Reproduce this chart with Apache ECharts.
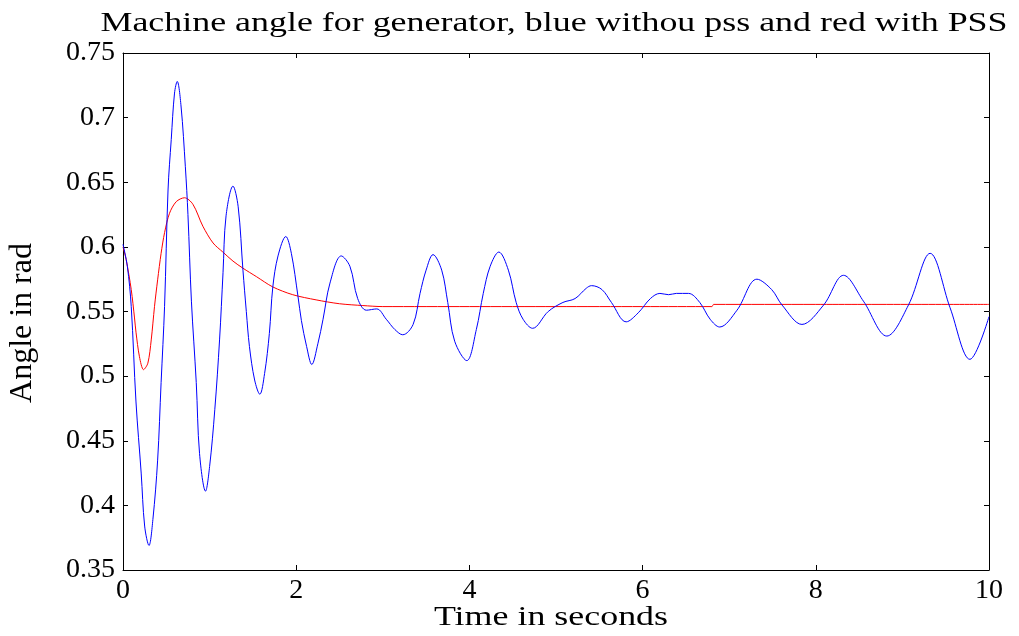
<!DOCTYPE html>
<html>
<head>
<meta charset="utf-8">
<title>Machine angle for generator</title>
<script src="https://cdn.jsdelivr.net/npm/echarts@6.0.0/dist/echarts.min.js"></script>
<style>
  html, body { margin: 0; padding: 0; background: #fff; }
  #chart { width: 1019px; height: 636px; }
</style>
</head>
<body>
<div id="chart"></div>
<script>
// Rotor angle response (rad) versus time (s)
const blueT = [0.00, 0.05, 0.095, 0.15, 0.21, 0.25, 0.30, 0.345, 0.40, 0.44, 0.48, 0.52, 0.557, 0.595, 0.626,
  0.67, 0.72, 0.75, 0.79, 0.846, 0.884, 0.953, 1.00, 1.06, 1.115, 1.155, 1.19, 1.27, 1.33, 1.385, 1.424,
  1.46, 1.52, 1.58, 1.635, 1.69, 1.73, 1.79, 1.88, 1.944, 2.02, 2.06, 2.12, 2.18, 2.25, 2.31, 2.39, 2.52,
  2.62, 2.71, 2.81, 2.93, 3.04, 3.14, 3.23, 3.35, 3.43, 3.50, 3.58, 3.68, 3.75, 3.83, 3.97, 4.08, 4.16,
  4.24, 4.34, 4.45, 4.54, 4.62, 4.73, 4.91, 5.08, 5.22, 5.35, 5.41, 5.53, 5.64, 5.81, 5.95, 6.09, 6.20,
  6.30, 6.39, 6.53, 6.66, 6.78, 6.89, 7.09, 7.32, 7.49, 7.61, 7.84, 8.09, 8.32, 8.55, 8.82, 9.07, 9.32,
  9.55, 9.78, 10.0];
const blueV = [0.602, 0.585, 0.554, 0.480, 0.425, 0.384, 0.369, 0.389, 0.435, 0.495, 0.554, 0.644, 0.683, 0.719, 0.728,
  0.709, 0.662, 0.625, 0.558, 0.495, 0.440, 0.411, 0.430, 0.474, 0.528, 0.580, 0.624, 0.647, 0.631, 0.582, 0.550,
  0.523, 0.497, 0.486, 0.502, 0.533, 0.569, 0.593, 0.608, 0.595, 0.562, 0.543, 0.523, 0.509, 0.525, 0.544, 0.572, 0.593,
  0.585, 0.560, 0.551, 0.552, 0.544, 0.536, 0.532, 0.540, 0.564, 0.582, 0.594, 0.582, 0.557, 0.527, 0.512, 0.536, 0.564,
  0.585, 0.596, 0.582, 0.557, 0.544, 0.537, 0.550, 0.557, 0.560, 0.568, 0.570, 0.567, 0.557, 0.542, 0.549, 0.560, 0.564,
  0.563, 0.564, 0.564, 0.557, 0.544, 0.538, 0.551, 0.575, 0.567, 0.555, 0.540, 0.555, 0.578, 0.558, 0.531, 0.555, 0.595,
  0.553, 0.513, 0.546];

const redT = [0.00, 0.037, 0.095, 0.133, 0.15, 0.19, 0.237, 0.287, 0.326, 0.364, 0.40, 0.44, 0.48, 0.537, 0.615,
  0.71, 0.807, 0.922, 1.04, 1.153, 1.27, 1.385, 1.54, 1.73, 1.96, 2.23, 2.50, 2.77, 3.0, 4.0, 5.0, 6.0, 6.8,
  6.82, 8.0, 10.0];
const redV = [0.600, 0.590, 0.567, 0.545, 0.534, 0.515, 0.505, 0.510, 0.528, 0.554, 0.5745, 0.595, 0.611, 0.626, 0.635,
  0.638, 0.633, 0.616, 0.603, 0.596, 0.589, 0.5835, 0.577, 0.569, 0.563, 0.559, 0.556, 0.5546, 0.5538, 0.5538, 0.5538, 0.5538, 0.5538,
  0.5555, 0.5555, 0.5555];

const xTicks = [0, 2, 4, 6, 8, 10];
const yTicks = [0.35, 0.4, 0.45, 0.5, 0.55, 0.6, 0.65, 0.7, 0.75];

const titleText = 'Machine angle for generator, blue withou pss and red with PSS';
const xName = 'Time in seconds';
const yName = 'Angle in rad';

const FONT = "'Liberation Serif', 'Times New Roman', serif";
const pairs = (t, v) => t.map((x, i) => [x, v[i]]);

const chart = echarts.init(document.getElementById('chart'), null, { renderer: 'canvas' });

const baseAxis = {
  axisLine: { show: true, onZero: false, lineStyle: { color: '#000', width: 1 } },
  axisTick: { show: true, inside: true, length: 5, lineStyle: { color: '#000', width: 1 } },
  splitLine: { show: false },
  minorTick: { show: false }
};

chart.setOption({
  animation: false,
  backgroundColor: '#fff',
  grid: { left: 123, right: 30, top: 53, bottom: 66, containLabel: false },
  xAxis: [
    Object.assign({}, baseAxis, {
      type: 'value', position: 'bottom',
      min: xTicks[0], max: xTicks[xTicks.length - 1], interval: xTicks[1] - xTicks[0],
      axisLabel: { show: true, margin: 7, color: '#000', fontFamily: FONT, fontSize: 28 }
    }),
    Object.assign({}, baseAxis, {
      type: 'value', position: 'top',
      min: xTicks[0], max: xTicks[xTicks.length - 1], interval: xTicks[1] - xTicks[0],
      axisLabel: { show: false }
    })
  ],
  yAxis: [
    Object.assign({}, baseAxis, {
      type: 'value', position: 'left',
      min: yTicks[0], max: yTicks[yTicks.length - 1], interval: 0.05,
      axisLabel: {
        show: true, margin: 8, color: '#000', fontFamily: FONT, fontSize: 28,
        formatter: v => String(Number(v.toFixed(2)))
      }
    }),
    Object.assign({}, baseAxis, {
      type: 'value', position: 'right',
      min: yTicks[0], max: yTicks[yTicks.length - 1], interval: 0.05,
      axisLabel: { show: false }
    })
  ],
  graphic: [
    {
      type: 'text', x: 554, y: 24, scaleX: 1.33, silent: true,
      style: { text: titleText, fill: '#000', fontFamily: FONT, fontSize: 27, align: 'center', verticalAlign: 'middle' }
    },
    {
      type: 'text', x: 551, y: 618, scaleX: 1.33, silent: true,
      style: { text: xName, fill: '#000', fontFamily: FONT, fontSize: 27, align: 'center', verticalAlign: 'middle' }
    },
    {
      type: 'text', x: 23, y: 323, rotation: Math.PI / 2, silent: true,
      style: { text: yName, fill: '#000', fontFamily: FONT, fontSize: 32, align: 'center', verticalAlign: 'middle' }
    }
  ],
  series: [
    {
      name: 'without PSS', type: 'line', xAxisIndex: 0, yAxisIndex: 0,
      data: pairs(blueT, blueV), showSymbol: false, symbol: 'none', smooth: 0.35,
      lineStyle: { color: '#0000ff', width: 1 }, z: 3
    },
    {
      name: 'with PSS', type: 'line', xAxisIndex: 0, yAxisIndex: 0,
      data: pairs(redT, redV), showSymbol: false, symbol: 'none', smooth: 0.3,
      lineStyle: { color: '#ff0000', width: 1 }, z: 2
    }
  ]
});
</script>
</body>
</html>
